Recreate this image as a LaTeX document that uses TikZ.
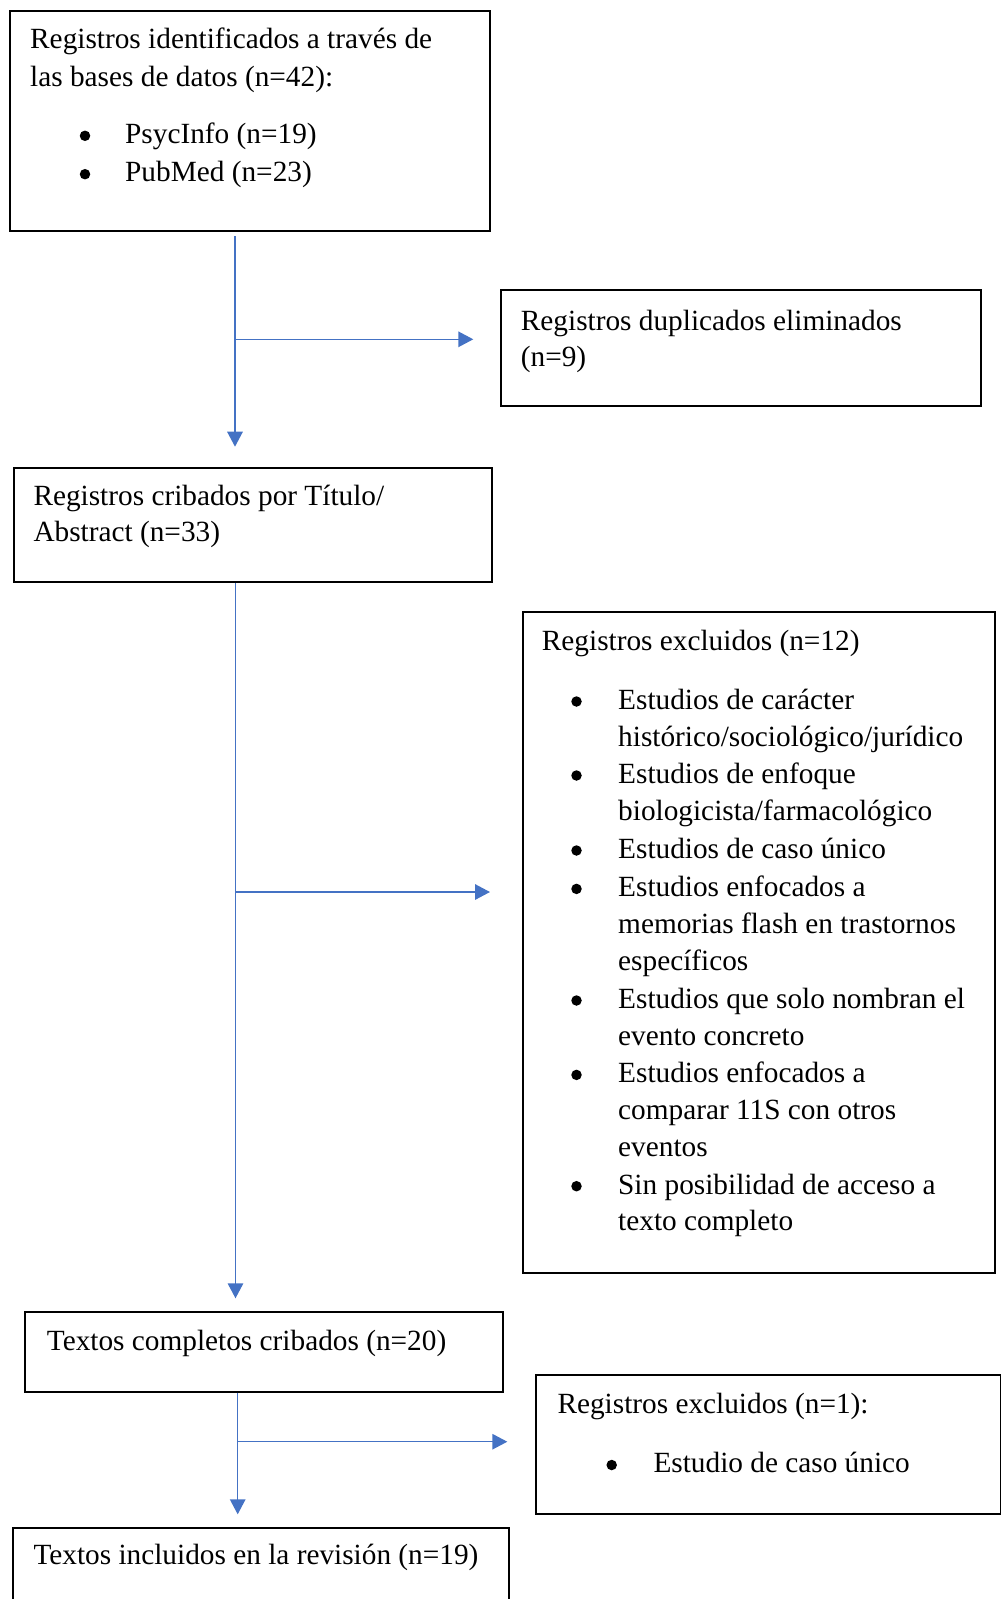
\documentclass[tikz,border=0pt]{standalone}
\usepackage{fontspec}
\setmainfont{Liberation Serif}
\usetikzlibrary{arrows.meta}
\definecolor{arrblue}{HTML}{4472C4}
\tikzset{
  box/.style={draw=black, line width=2pt, rectangle, inner sep=0pt, anchor=north west},
  txt/.style={anchor=base west, inner sep=0pt, font=\fontsize{29.3}{34}\selectfont},
  bul/.style={circle, fill=black, inner sep=0pt, minimum size=10.5pt},
  arr/.style={draw=arrblue, line width=1.5pt, -{Triangle[length=15pt,width=15.5pt]}},
}
\begin{document}
\begin{tikzpicture}[x=1pt,y=-1pt]
\useasboundingbox (0,0) rectangle (1001,1599);
\clip (0,0) rectangle (1001,1599);
% boxes
\node[box, minimum width=480pt, minimum height=219.5pt] (b1) at (9,10) {};
\node[box, minimum width=480pt, minimum height=116pt] (b2) at (500,289) {};
\node[box, minimum width=477.4pt, minimum height=114pt] (b3) at (13.3,467.3) {};
\node[box, minimum width=472.5pt, minimum height=660.7pt] (b4) at (521.5,611) {};
\node[box, minimum width=478pt, minimum height=79.7pt] (b5) at (24.3,1311) {};
\node[box, minimum width=465pt, minimum height=138.7pt] (b6) at (535,1374) {};
\node[box, minimum width=496.6pt, minimum height=90pt] (b7) at (11.7,1527) {};
% box 1 text
\node[txt] (t1a) at (30,48.3) {Registros identificados a través de};
\node[txt] (t1b) at (30,86) {las bases de datos (n=42):};
\node[bul] (u1a) at (85,135.8) {};
\node[txt] (t1c) at (125,143.3) {PsycInfo (n=19)};
\node[bul] (u1b) at (85,174.2) {};
\node[txt] (t1d) at (125,181.7) {PubMed (n=23)};
% box 2 text
\node[txt] (t2a) at (520.7,330) {Registros duplicados eliminados};
\node[txt] (t2b) at (520.7,366.7) {(n=9)};
% box 3 text
\node[txt] (t3a) at (33.3,505) {Registros cribados por Título/};
\node[txt] (t3b) at (33.3,541.7) {Abstract (n=33)};
% box 4 text
\node[txt] (t4) at (541.7,650) {Registros excluidos (n=12)};
\node[bul] (u4a) at (576.5,701.5) {};
\node[txt] (t4a1) at (618,709.3) {Estudios de carácter};
\node[txt] (t4a2) at (618,746.7) {histórico/sociológico/jurídico};
\node[bul] (u4b) at (576.5,775.5) {};
\node[txt] (t4b1) at (618,783.3) {Estudios de enfoque};
\node[txt] (t4b2) at (618,820) {biologicista/farmacológico};
\node[bul] (u4c) at (576.5,850.5) {};
\node[txt] (t4c1) at (618,858.3) {Estudios de caso único};
\node[bul] (u4d) at (576.5,888.9) {};
\node[txt] (t4d1) at (618,896.7) {Estudios enfocados a};
\node[txt] (t4d2) at (618,933.3) {memorias flash en trastornos};
\node[txt] (t4d3) at (618,970.7) {específicos};
\node[bul] (u4e) at (576.5,1000.5) {};
\node[txt] (t4e1) at (618,1008.3) {Estudios que solo nombran el};
\node[txt] (t4e2) at (618,1045) {evento concreto};
\node[bul] (u4f) at (576.5,1074.9) {};
\node[txt] (t4f1) at (618,1082.7) {Estudios enfocados a};
\node[txt] (t4f2) at (618,1119.3) {comparar 11S con otros};
\node[txt] (t4f3) at (618,1156.7) {eventos};
\node[bul] (u4g) at (576.5,1186.2) {};
\node[txt] (t4g1) at (618,1194) {Sin posibilidad de acceso a};
\node[txt] (t4g2) at (618,1230.7) {texto completo};
% box 5 text
\node[txt] (t5) at (46.7,1350) {Textos completos cribados (n=20)};
% box 6 text
\node[txt] (t6) at (557.3,1413.3) {Registros excluidos (n=1):};
\node[bul] (u6) at (611.7,1465) {};
\node[txt] (t6a) at (653.3,1472.7) {Estudio de caso único};
% box 7 text
\node[txt] (t7) at (33.3,1564) {Textos incluidos en la revisión (n=19)};
% connectors
\coordinate (j1) at (235,339.3);
\coordinate (j2) at (235.5,892);
\coordinate (j3) at (237.7,1441.7);
\draw[arr, shorten <=4.5pt, shorten >=20.6pt] (b1.south -| j1) -- (b3.north -| j1);
\draw[arr, shorten >=26.7pt] (j1) -- (j1 -| b2.west);
\draw[arr, shorten >=12.7pt] (b3.south -| j2) -- (b5.north -| j2);
\draw[arr, shorten >=31.5pt] (j2) -- (j2 -| b4.west);
\draw[arr, shorten >=12.7pt] (b5.south -| j3) -- (b7.north -| j3);
\draw[arr, shorten >=27.7pt] (j3) -- (j3 -| b6.west);
\end{tikzpicture}
\end{document}
